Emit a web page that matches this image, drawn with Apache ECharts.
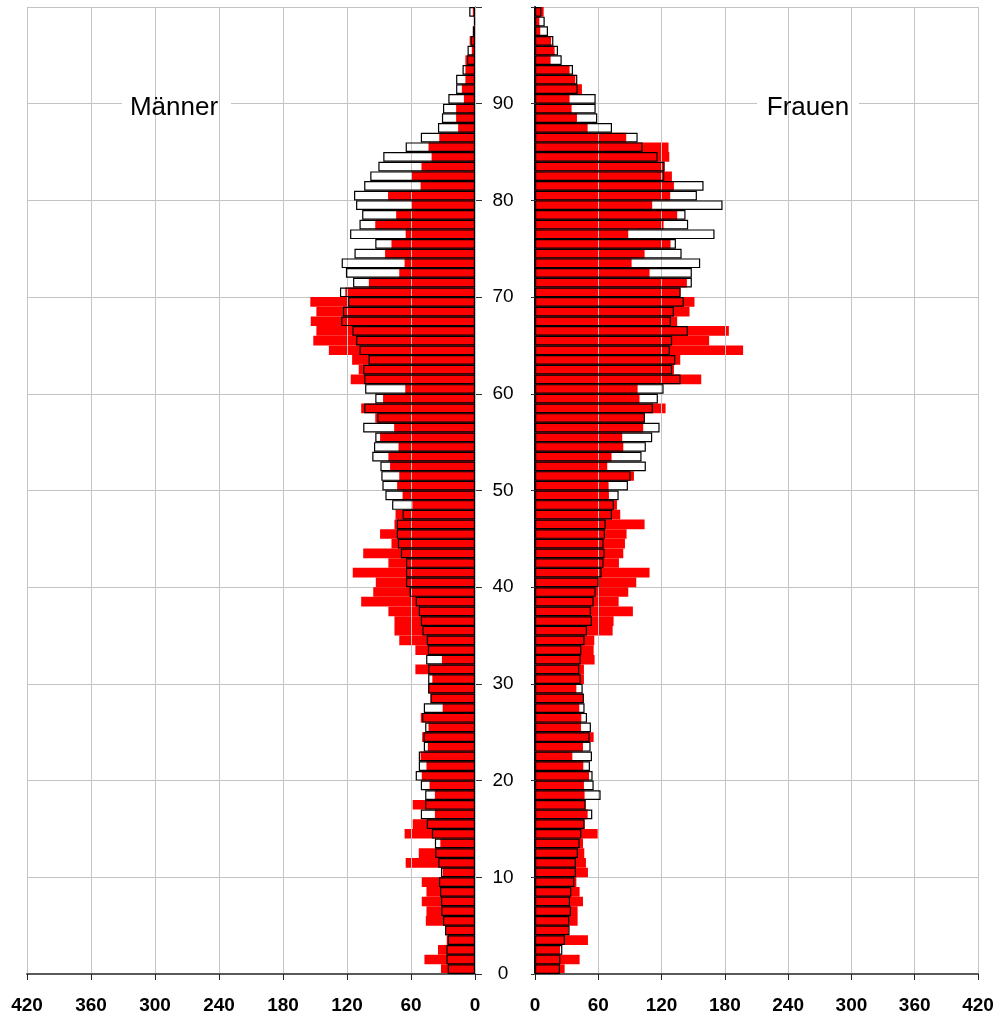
<!DOCTYPE html>
<html>
<head>
<meta charset="utf-8">
<script src="https://cdn.jsdelivr.net/npm/echarts@6/dist/echarts.min.js"></script>
<style>html,body{margin:0;padding:0;background:#fff;}#c{width:1002px;height:1020px;}</style>
</head>
<body>
<div id="c"></div>
<script>
// Ages 0..99 (bottom to top)
const ages = Array.from({length:100}, (_, i) => String(i));
const xTicks = [0, 60, 120, 180, 240, 300, 360, 420];
const ageTicks = [0, 10, 20, 30, 40, 50, 60, 70, 80, 90];

// Männer – outlined bars (comparison year)
const menOutline = [25.6,26.8,26.8,25.6,28.1,30,31.6,31.9,32.8,33.8,
31.9,34.4,37.3,37.6,40.4,45.2,50.8,46.7,46.7,50.8,
55.6,52.7,52.7,48,48.3,46.7,49.6,48,41.7,43.9,
43.9,43.9,45.8,44.2,45.2,49.3,50.8,52.7,55.6,61.3,
64.7,64.7,64.7,69.5,72.3,73.3,73.3,67.9,77.7,84,
86.8,87.8,88.7,96.3,94.7,93.5,104.8,91.6,103.9,93.5,
103,103.9,104.8,99.8,108.3,111.5,115,125.4,123.8,119,
126.6,114.3,121,125,113,93.5,117.1,108.3,105.8,111.5,
113.4,103.9,98.2,90.6,86,65,50.8,34.7,31,30,
25,17.7,17.7,11.7,7.5,7,4,2,1,5.4];

// Männer – red bars
const menRed = [31.9,47.4,34.7,26.5,28.1,46.1,45.5,49.9,45.5,49.9,
30.3,65,52.7,32.5,66,58.4,37.6,58.4,37.6,42.6,
49.9,45.5,51,44.2,49.5,43.6,50.8,30.3,41.7,43.9,
40,55.9,31,55.9,71,75.5,75.5,81.2,106.7,95.4,
93,114.6,81.2,104.8,78.3,89,75.5,74.5,58.7,67.9,
73,71,79.6,81.2,71.7,89,75.8,93.5,106.7,86.2,
65.4,116.5,109,115.2,137,151.6,148.7,154,148.7,154.4,
121.6,99.5,71,66,84.3,78.3,65,93.5,73.9,60,
81.5,51,60,50.2,40.7,43.6,33.5,15.8,17.7,17.7,
10.4,12.3,9,9,9,3,5,2,1,2];

// Frauen – outlined bars
const womenOutline = [23.7,24,25.9,28.4,32.8,32.5,34.1,33.2,34.4,37.3,
38.8,38.8,40.7,42.3,43.9,47,54.3,48,62.2,55.6,
54.6,52.1,54,52.7,51.8,53,49.3,47,46.4,45.2,
43.3,42,43.3,43.9,47,49.3,54,53,55.6,57.5,
60.3,63.2,65,66,65,66.3,67,73,74.8,79.3,
88.1,90.6,105.1,101,105.1,111.1,118.1,104.2,111.8,116.5,
121.9,138,130,133,127.9,130,145,128.8,131.7,141.1,
138,148.7,148.7,156.6,139,133.6,170.2,145.2,142.7,177.8,
153.5,159.8,122.5,122.8,116.2,102,97.3,73,59,57.5,
57.5,40.4,40.1,36,25.3,21.8,17.4,12.3,9.2,6];

// Frauen – red bars
const womenRed = [28.1,42.3,23.7,50.2,31.9,40.4,40.4,45.5,42.3,39.2,
50.2,48.3,46.7,45.5,59.4,47,49.9,48,47,46.4,
51.2,45.8,35.4,45.5,55.6,43.6,43.9,42,45.5,39.2,
46.4,46.4,56.5,55.6,56.2,73.6,74.5,92.8,79.3,88.4,
96,108.6,79.6,83.7,85.3,86.8,103.9,80.8,77.7,70.1,
69.8,93.8,68.5,72.6,83.7,82.7,102.6,104.2,123.8,99.1,
97.3,157.6,131.7,137.7,197.3,165.1,183.8,134.8,146.5,151.2,
138,144,108.6,91.6,103.9,128.5,88.4,121.9,134.8,111.1,
128.2,131.7,129.8,122.8,127.3,126.6,86.5,49.9,39.8,34.7,
32.8,44.5,38.2,32.8,14.8,18.6,15.2,5,4.1,8.2];

const labelMen = 'Männer';
const labelWomen = 'Frauen';

const FONT = "'Liberation Sans', Arial, sans-serif";
const chart = echarts.init(document.getElementById('c'), null, {renderer: 'canvas'});

function xAxisDef(gridIndex, inverse) {
  return {
    type: 'value', gridIndex: gridIndex, min: xTicks[0], max: xTicks[xTicks.length - 1],
    interval: xTicks[1] - xTicks[0], inverse: inverse, z: 2,
    axisLine: {show: true, onZero: false, lineStyle: {color: '#5a5a5a', width: 2}},
    axisTick: {show: true, length: 6, lineStyle: {color: '#222', width: 1}},
    axisLabel: {fontFamily: FONT, fontSize: 19, fontWeight: 'bold', color: '#000', margin: 22},
    splitLine: {show: true, lineStyle: {color: '#c4c4c4', width: 1}}
  };
}

function catAxis(gridIndex) {
  return {type: 'category', gridIndex: gridIndex, data: ages, show: false, boundaryGap: true};
}

const option = {
  animation: false,
  backgroundColor: '#fff',
  grid: [
    {left: 27, right: 527, top: 7, bottom: 46, containLabel: false},
    {left: 535, right: 24, top: 7, bottom: 46, containLabel: false}
  ],
  xAxis: [xAxisDef(0, true), xAxisDef(1, false)],
  yAxis: [
    catAxis(0),
    {
      type: 'value', gridIndex: 0, min: 0, max: 100, interval: 10, position: 'right', z: 0,
      axisLine: {show: true, lineStyle: {color: '#000', width: 1}},
      axisTick: {show: true, inside: false, length: 7, lineStyle: {color: '#333'}},
      axisLabel: {
        fontFamily: FONT, fontSize: 19, color: '#000', align: 'center', margin: 28,
        formatter: function (v) { return ageTicks.indexOf(v) >= 0 ? String(v) : ''; }
      },
      splitLine: {show: true, lineStyle: {color: '#c4c4c4', width: 1}}
    },
    catAxis(1),
    {
      type: 'value', gridIndex: 1, min: 0, max: 100, interval: 10, position: 'left', z: 0,
      axisLine: {show: true, lineStyle: {color: '#1a0000', width: 2}},
      axisTick: {show: true, inside: false, length: 4, lineStyle: {color: '#333'}},
      axisLabel: {show: false},
      splitLine: {show: true, lineStyle: {color: '#c4c4c4', width: 1}}
    }
  ],
  series: [
    {
      type: 'bar', xAxisIndex: 0, yAxisIndex: 0, data: menRed, z: 1,
      barCategoryGap: '0%', barGap: '-100%',
      itemStyle: {color: '#ff0000'}, silent: true
    },
    {
      type: 'bar', xAxisIndex: 0, yAxisIndex: 0, data: menOutline, z: 3,
      barCategoryGap: '0%', barGap: '-100%',
      itemStyle: {color: 'rgba(0,0,0,0)', borderColor: '#000', borderWidth: 1.2}, silent: true
    },
    {
      type: 'bar', xAxisIndex: 1, yAxisIndex: 2, data: womenRed, z: 1,
      barCategoryGap: '0%', barGap: '-100%',
      itemStyle: {color: '#ff0000'}, silent: true
    },
    {
      type: 'bar', xAxisIndex: 1, yAxisIndex: 2, data: womenOutline, z: 3,
      barCategoryGap: '0%', barGap: '-100%',
      itemStyle: {color: 'rgba(0,0,0,0)', borderColor: '#000', borderWidth: 1.2}, silent: true
    }
  ],
  graphic: [
    {type: 'rect', z: 1, shape: {x: 122, y: 101, width: 109, height: 6}, style: {fill: '#fff'}},
    {type: 'rect', z: 1, shape: {x: 757, y: 101, width: 102, height: 6}, style: {fill: '#fff'}},
    {type: 'text', z: 10, x: 174, y: 108, style: {text: labelMen, fontFamily: FONT, fontSize: 26, fill: '#000', align: 'center', verticalAlign: 'middle'}},
    {type: 'text', z: 10, x: 808, y: 108, style: {text: labelWomen, fontFamily: FONT, fontSize: 26, fill: '#000', align: 'center', verticalAlign: 'middle'}}
  ]
};
chart.setOption(option);
</script>
</body>
</html>
